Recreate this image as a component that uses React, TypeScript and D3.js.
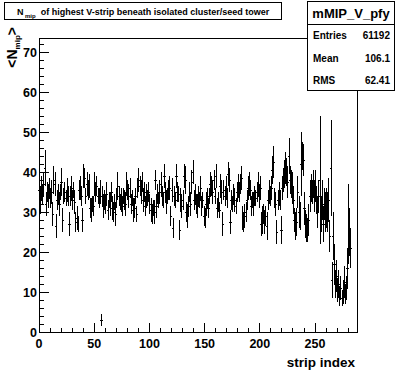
import React from 'react';
import * as d3 from 'd3';

const W = 396, H = 372;
const frame = { x0: 39, x1: 357, y0: 38, y1: 332 };

// profile mean <N_mip> per strip
const stripMean: number[] = [
  35.5, 33, 36, 34.5, 37, 41, 32, 35, 34, 36,
  33.5, 35, 29.5, 38, 37, 26.5, 33, 34.5, 32, 35,
  37.5, 28, 34, 35, 33.5, 35.5, 34, 27, 34, 36,
  33, 35.5, 32.5, 27.5, 28.5, 27, 35.5, 36, 34, 28,
  39, 38.5, 34, 37, 35.5, 36.5, 31, 30.5, 32, 31.5,
  37, 35, 36.5, 34, 33.5, 35, 3, 34, 31.5, 33,
  32, 34.5, 30.5, 33, 32, 35, 31, 30, 32.5, 29.5,
  33.5, 36.5, 34, 32.5, 33, 31.5, 34, 33, 32, 37,
  35.5, 34, 36, 32, 33.5, 30.5, 31, 34, 29.5, 36,
  38, 36.5, 35, 37.5, 33, 35, 31.5, 34, 33.5, 35,
  32, 30.5, 29.5, 31, 30, 38, 31.5, 34.5, 33, 35,
  37, 34, 33, 39, 35, 32.5, 34, 35.5, 36, 29,
  35.5, 26, 34, 33, 39, 35, 34.5, 25.5, 33, 31.5,
  33, 39, 38, 30, 29, 31.5, 35, 32, 37.5, 40,
  33, 34.5, 32, 31.5, 34, 33, 36, 31.5, 33, 29,
  28.5, 32, 33.5, 31, 34, 37, 36.5, 35, 38, 34,
  39, 31, 32.5, 30.5, 36.5, 35, 27, 35.5, 34, 36,
  33.5, 39.5, 38, 27.5, 33, 32, 34.5, 33, 31.5, 35,
  36.5, 35, 37, 38.5, 28.5, 27.5, 29, 30, 33, 36,
  37, 35.5, 31.5, 33, 32, 34, 33.5, 35, 37, 34,
  36, 27, 28, 29.5, 27.5, 29, 26.5, 33, 35, 34,
  36, 40.5, 42.5, 33.5, 32, 25, 33, 34.5, 33, 25.5,
  36, 38, 39.5, 41, 40, 37.5, 44, 38, 37, 36,
  33, 28, 26.5, 27.5, 35, 30, 29, 42, 44, 43,
  31, 27, 26, 25.5, 28, 34, 36, 35, 37, 34,
  36.5, 33, 30, 34, 38, 29.5, 33, 27, 32, 30,
  31, 30, 33, 24, 41, 13, 24, 17, 12, 14,
  10.5, 12, 9, 11, 8.5, 10, 12.5, 9.5, 11, 16,
  27, 25, 21,
];

const stripErr: number[] = [
  3, 3.5, 3, 2.5, 3, 4.5, 3, 2.5, 3, 2.5,
  2.5, 3, 3, 3.5, 3, 3, 2.5, 2.5, 3, 2,
  3.5, 3, 2, 2.5, 2, 3, 2.5, 3, 2.5, 3,
  2.5, 2, 3, 2.5, 3, 2, 2.5, 3, 2.5, 3,
  3, 2.5, 2, 3, 2.5, 3, 2.5, 3, 2, 2.5,
  3, 2.5, 2.5, 2, 2.5, 3, 1.5, 2.5, 3, 2.5,
  2.5, 3, 2.5, 2, 3, 2.5, 3, 2.5, 2, 3,
  2.5, 3.5, 2.5, 2, 3, 2.5, 2, 2.5, 3, 3,
  2.5, 3, 2.5, 2.5, 2, 3, 2.5, 2, 2, 2.5,
  3, 2.5, 3, 2.5, 3, 2.5, 2.5, 3, 2, 2.5,
  2.5, 3, 2.5, 2, 3, 2.5, 3, 2.5, 2, 3,
  3, 2.5, 2, 3, 2.5, 3, 2, 2.5, 3, 2.5,
  3, 2.5, 2.5, 2, 3, 2.5, 2, 2.5, 3, 3,
  2.5, 3, 3.5, 2.5, 3, 2.5, 2.5, 3, 3, 3,
  2.5, 2.5, 2.5, 3, 2.5, 2, 3, 2.5, 2, 2.5,
  2.5, 3, 2.5, 2.5, 2, 3, 2.5, 3, 2.5, 2,
  3, 2.5, 2.5, 2, 3, 3, 3, 2.5, 2.5, 3,
  2.5, 3, 3, 3, 2.5, 2, 2.5, 3, 2, 2.5,
  3, 2.5, 2.5, 3, 3, 2.5, 3, 2.5, 2.5, 3,
  3, 2.5, 2.5, 2, 3, 2.5, 2, 2.5, 3, 3,
  3, 3, 3.5, 2.5, 3, 2.5, 3.5, 2.5, 3, 2.5,
  3, 3.5, 4, 2.5, 3, 3, 2.5, 3, 2.5, 3.5,
  3, 3, 3.5, 4, 3.5, 4, 4.5, 3.5, 3.5, 4,
  3.5, 3, 3.5, 3.5, 4, 4, 3.5, 8, 3.5, 4,
  4, 3.5, 3.5, 3, 4, 4, 3.5, 3, 3.5, 4,
  4, 3.5, 4, 4, 16, 4.5, 5, 4.5, 4, 5,
  5, 5, 5.5, 4, 12, 4.5, 6, 5, 3.5, 4,
  3, 3.5, 2.5, 3, 2, 3, 4, 2.5, 3, 5,
  10, 6, 5,
];

const xMajor = [0, 50, 100, 150, 200, 250];
const yMajor = [0, 10, 20, 30, 40, 50, 60, 70];
const statNames = ['Entries', 'Mean', 'RMS'];
const statValues = ['61192', '106.1', '62.41'];

const FONT = '"Liberation Sans", Arial, Helvetica, sans-serif';

export default function App() {
  const x = d3.scaleLinear().domain([0, 288]).range([frame.x0, frame.x1]);
  const y = d3.scaleLinear().domain([0, 73.5]).range([frame.y1, frame.y0]);

  const xMinor = d3.range(0, 290, 10).filter(v => v % 50 !== 0);
  const yMinor = d3.range(0, 74, 2).filter(v => v % 10 !== 0);

  const statY = [35, 58, 80];

  return (
    <div style={{ position: 'fixed', left: 0, top: 0 }}>
      <svg width={W} height={H} style={{ display: 'block', background: '#fff' }} fontFamily={FONT}>
        <rect x={0} y={0} width={W} height={H} fill="#fff" />

        {/* title box */}
        <rect x={4.5} y={2.5} width={277} height={17} fill="#fff" stroke="#000" />
        <text x={17} y={15} fontSize={9} fontWeight="bold">
          N<tspan fontSize={6} dy={3} dx={1.5}>mip</tspan>
          <tspan dy={-3} dx={5}>of highest V-strip beneath isolated cluster/seed tower</tspan>
        </text>

        {/* error bars */}
        <g stroke="#000" strokeWidth={1} shapeRendering="crispEdges">
          {stripMean.map((v, i) => {
            const cx = x(i + 0.5);
            const e = stripErr[i];
            return (
              <g key={i}>
                <line x1={cx} x2={cx} y1={y(v - e)} y2={y(v + e)} />
                <line x1={cx - 1.2} x2={cx + 1.2} y1={y(v)} y2={y(v)} />
              </g>
            );
          })}
        </g>

        {/* frame + axes */}
        <g stroke="#000" strokeWidth={1} shapeRendering="crispEdges" fill="none">
          <rect x={frame.x0} y={frame.y0} width={frame.x1 - frame.x0} height={frame.y1 - frame.y0} />
          {xMajor.map(v => <line key={'xM' + v} x1={x(v)} x2={x(v)} y1={frame.y1} y2={frame.y1 - 9} />)}
          {xMinor.map(v => <line key={'xm' + v} x1={x(v)} x2={x(v)} y1={frame.y1} y2={frame.y1 - 4.5} />)}
          {yMajor.map(v => <line key={'yM' + v} x1={frame.x0} x2={frame.x0 + 10} y1={y(v)} y2={y(v)} />)}
          {yMinor.map(v => <line key={'ym' + v} x1={frame.x0} x2={frame.x0 + 5} y1={y(v)} y2={y(v)} />)}
        </g>

        <g fontSize={12.5} fontWeight="bold">
          {xMajor.map(v => (
            <text key={'xl' + v} x={x(v)} y={348} textAnchor="middle">{v}</text>
          ))}
          {yMajor.map(v => (
            <text key={'yl' + v} x={37} y={y(v) + 4.5} textAnchor="end">{v}</text>
          ))}
        </g>

        <text x={355} y={367} textAnchor="end" fontSize={13.5} fontWeight="bold">strip index</text>

        <text transform="translate(17,27) rotate(-90)" textAnchor="end" fontSize={14} fontWeight="bold">
          &lt;N<tspan fontSize={8} dy={3}>mip</tspan><tspan dy={-3}>&gt;</tspan>
        </text>

        {/* stats box */}
        <rect x={307.5} y={1.5} width={87} height={89} fill="#fff" stroke="#000" shapeRendering="crispEdges" />
        <line x1={307.5} x2={394.5} y1={24.5} y2={24.5} stroke="#000" shapeRendering="crispEdges" />
        <text x={351} y={18} textAnchor="middle" fontSize={13} fontWeight="bold">mMIP_V_pfy</text>
        <g fontSize={10} fontWeight="bold">
          {statNames.map((n, i) => (
            <g key={n}>
              <text x={313} y={statY[i] + 3.5}>{n}</text>
              <text x={390} y={statY[i] + 3.5} textAnchor="end">{statValues[i]}</text>
            </g>
          ))}
        </g>
      </svg>
    </div>
  );
}
